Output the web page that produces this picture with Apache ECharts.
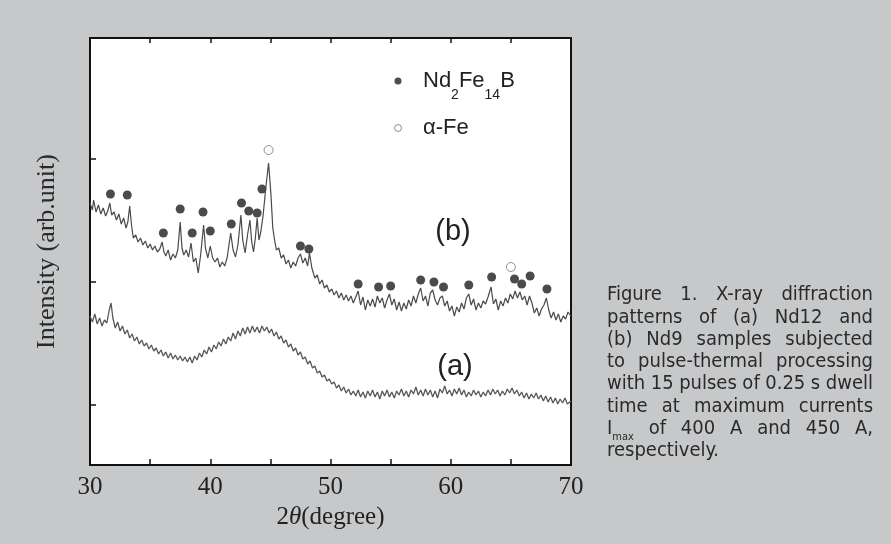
<!DOCTYPE html>
<html><head><meta charset="utf-8">
<script src="https://cdn.jsdelivr.net/npm/echarts@6/dist/echarts.min.js"></script>
<style>html,body{margin:0;padding:0;background:#c7c8ca;}#c{width:891px;height:544px;}</style>
</head><body><div id="c"></div>
<script>
// 2θ (degree), intensity (arb. unit) — pattern (b) Nd9
const curveB = [[30.0,262],[30.2,255],[30.3,265],[30.5,253],[30.7,260],[30.9,251],[31.1,257],[31.3,249],[31.5,255],[31.65,262],[31.8,250],[32.0,253],[32.2,245],[32.4,251],[32.6,241],[32.8,247],[33.0,237],[33.15,243],[33.3,259],[33.45,240],[33.6,227],[33.8,230],[34.0,223],[34.2,227],[34.4,220],[34.6,224],[34.8,217],[35.0,221],[35.2,215],[35.4,219],[35.6,213],[35.8,216],[36.0,223],[36.15,213],[36.3,209],[36.5,215],[36.7,205],[36.9,211],[37.1,207],[37.3,215],[37.5,243],[37.65,217],[37.8,210],[38.0,215],[38.2,208],[38.4,222],[38.6,203],[38.8,207],[39.0,192],[39.2,210],[39.45,240],[39.6,217],[39.8,207],[40.0,219],[40.2,207],[40.4,203],[40.6,207],[40.8,198],[41.0,203],[41.2,199],[41.4,207],[41.7,232],[41.9,215],[42.1,208],[42.3,220],[42.55,250],[42.7,225],[42.9,212],[43.1,230],[43.3,245],[43.45,223],[43.6,213],[43.75,227],[43.9,247],[44.05,225],[44.2,233],[44.4,250],[44.6,275],[44.85,302],[45.05,270],[45.2,237],[45.35,225],[45.5,215],[45.7,217],[45.9,207],[46.1,210],[46.3,201],[46.5,205],[46.7,197],[46.9,203],[47.1,199],[47.3,207],[47.5,211],[47.7,202],[47.9,207],[48.1,199],[48.25,212],[48.45,197],[48.7,187],[48.9,190],[49.1,181],[49.3,185],[49.5,177],[49.7,180],[49.9,173],[50.1,176],[50.3,170],[50.5,174],[50.7,167],[50.9,172],[51.1,165],[51.3,170],[51.5,164],[51.7,169],[51.9,162],[52.1,168],[52.3,174],[52.5,160],[52.7,168],[52.9,155],[53.1,165],[53.3,159],[53.5,166],[53.7,158],[53.9,169],[54.1,162],[54.3,167],[54.5,157],[54.7,165],[54.9,171],[55.1,160],[55.3,166],[55.5,155],[55.7,163],[55.9,154],[56.1,162],[56.3,156],[56.5,165],[56.7,159],[56.9,169],[57.1,162],[57.3,171],[57.5,177],[57.7,164],[57.9,169],[58.1,159],[58.3,172],[58.5,175],[58.7,165],[58.9,160],[59.1,167],[59.3,169],[59.5,159],[59.7,164],[59.9,154],[60.1,159],[60.3,149],[60.5,158],[60.7,153],[60.9,162],[61.1,156],[61.3,167],[61.5,171],[61.7,160],[61.9,166],[62.1,155],[62.3,162],[62.5,157],[62.7,164],[62.9,161],[63.1,168],[63.35,178],[63.55,161],[63.75,166],[63.95,155],[64.15,164],[64.35,159],[64.55,167],[64.75,162],[64.95,171],[65.15,166],[65.35,174],[65.55,167],[65.75,173],[65.95,165],[66.15,169],[66.35,160],[66.55,169],[66.75,162],[66.95,152],[67.15,157],[67.35,149],[67.55,156],[67.75,160],[67.95,167],[68.15,155],[68.35,147],[68.55,153],[68.75,145],[68.95,151],[69.15,143],[69.35,149],[69.55,146],[69.75,153],[70.0,149]];

// pattern (a) Nd12
const curveA = [[30.0,149],[30.2,143],[30.4,151],[30.6,141],[30.8,147],[31.0,139],[31.2,145],[31.4,142],[31.6,155],[31.75,162],[31.9,147],[32.1,137],[32.3,143],[32.5,134],[32.7,139],[32.9,131],[33.1,135],[33.3,127],[33.5,131],[33.7,124],[33.9,128],[34.1,121],[34.3,125],[34.5,119],[34.7,122],[34.9,116],[35.1,120],[35.3,114],[35.5,117],[35.7,111],[35.9,115],[36.1,109],[36.3,113],[36.5,107],[36.7,112],[36.9,106],[37.1,110],[37.3,105],[37.5,109],[37.7,104],[37.9,108],[38.1,103],[38.3,108],[38.5,102],[38.7,109],[38.9,105],[39.1,112],[39.3,108],[39.5,115],[39.7,111],[39.9,118],[40.1,113],[40.3,120],[40.5,116],[40.7,123],[40.9,119],[41.1,126],[41.3,121],[41.5,128],[41.7,124],[41.9,132],[42.1,126],[42.3,134],[42.5,129],[42.7,137],[42.9,131],[43.1,138],[43.3,132],[43.5,139],[43.7,133],[43.9,138],[44.1,132],[44.3,139],[44.5,134],[44.7,138],[44.9,132],[45.1,136],[45.3,129],[45.5,133],[45.7,126],[45.9,129],[46.1,122],[46.3,125],[46.5,118],[46.7,121],[46.9,114],[47.1,117],[47.3,110],[47.5,113],[47.7,106],[47.9,108],[48.1,101],[48.3,104],[48.5,97],[48.7,99],[48.9,92],[49.1,94],[49.3,88],[49.5,90],[49.7,84],[49.9,86],[50.1,81],[50.3,83],[50.5,77],[50.7,80],[50.9,74],[51.1,78],[51.3,72],[51.5,76],[51.7,70],[51.9,74],[52.1,69],[52.3,75],[52.5,68],[52.7,73],[52.9,67],[53.1,74],[53.3,69],[53.5,75],[53.7,68],[53.9,73],[54.1,66],[54.3,74],[54.5,69],[54.7,75],[54.9,68],[55.1,73],[55.3,67],[55.5,74],[55.7,70],[55.9,76],[56.1,69],[56.3,74],[56.5,68],[56.7,75],[56.9,71],[57.1,78],[57.3,70],[57.5,75],[57.7,69],[57.9,76],[58.1,70],[58.3,75],[58.5,68],[58.7,74],[58.9,67],[59.1,76],[59.3,72],[59.5,79],[59.7,71],[59.9,75],[60.1,69],[60.3,76],[60.5,71],[60.7,77],[60.9,70],[61.1,75],[61.3,68],[61.5,73],[61.7,69],[61.9,75],[62.1,70],[62.3,74],[62.5,68],[62.7,73],[62.9,69],[63.1,75],[63.3,70],[63.5,76],[63.7,71],[63.9,75],[64.1,69],[64.3,74],[64.5,70],[64.7,76],[64.9,72],[65.1,77],[65.3,71],[65.5,75],[65.7,69],[65.9,73],[66.1,67],[66.3,72],[66.5,66],[66.7,71],[66.9,67],[67.1,72],[67.3,66],[67.5,70],[67.7,64],[67.9,69],[68.1,63],[68.3,68],[68.5,62],[68.7,67],[68.9,61],[69.1,66],[69.3,62],[69.5,67],[69.7,61],[70.0,64]];

// peak markers
const nd2fe14bPeaks = [[31.7,271],[33.1,270],[36.1,232],[37.5,256],[38.5,232],[39.4,253],[40.0,234],[41.75,241],[42.6,262],[43.2,254],[43.9,252],[44.3,276],[47.5,219],[48.2,216],[52.3,181],[54.0,178],[55.0,179],[57.5,185],[58.6,183],[59.4,178],[61.5,180],[63.4,188],[65.3,186],[65.9,181],[66.6,189],[68.0,176]];
const alphaFePeaks = [[44.85,315],[65.0,198]];

const xTickLabels = [30,40,50,60,70];
const yTickValues = [60,183,306];
const captionLines = [
  "Figure 1. X-ray diffraction",
  "patterns of (a) Nd12 and",
  "(b) Nd9 samples subjected",
  "to pulse-thermal processing",
  "with 15 pulses of 0.25 s dwell",
  "time at maximum currents",
  "I_max of 400 A and 450 A,",
  "respectively."
];

const serif = '"Liberation Serif","Times New Roman",serif';
const sans = '"Liberation Sans",Arial,sans-serif';
const capFamily = '"Liberation Sans Narrow","DejaVu Sans Condensed","Liberation Sans",sans-serif';
const capSize = 20;
const ctx = document.createElement('canvas').getContext('2d');
function tw(t, size){ ctx.font = size + 'px ' + capFamily; return ctx.measureText(t).width; }

const graphics = [];
const capLeft = 607, capRight = 873, capTop = 295, capStep = 22.3;
captionLines.forEach((line, i) => {
  const words = line.split(' ');
  const widths = words.map(wd => wd === 'I_max' ? tw('I', capSize) + tw('max', 11) : tw(wd, capSize));
  const total = widths.reduce((a,b)=>a+b,0);
  const last = i === captionLines.length - 1;
  const gap = last ? tw(' ', capSize) : (capRight - capLeft - total) / (words.length - 1);
  let x = capLeft;
  const y = capTop + i * capStep;
  words.forEach((wd, j) => {
    if (wd === 'I_max') {
      graphics.push({type:'text', x: x, y: y, silent:true, style:{text:'I', font: capSize+'px '+capFamily, fill:'#2a2a2a', textVerticalAlign:'middle'}});
      graphics.push({type:'text', x: x + tw('I', capSize), y: y + 8, silent:true, style:{text:'max', font: '11px '+capFamily, fill:'#2a2a2a', textVerticalAlign:'middle'}});
    } else {
      graphics.push({type:'text', x: x, y: y, silent:true, style:{text: wd, font: capSize+'px '+capFamily, fill:'#2a2a2a', textVerticalAlign:'middle'}});
    }
    x += widths[j] + gap;
  });
});
graphics.push({type:'text', x:453, y:232, silent:true, style:{text:'(b)', font:'29px '+sans, fill:'#222', textAlign:'center', textVerticalAlign:'middle'}});
graphics.push({type:'text', x:455, y:367, silent:true, style:{text:'(a)', font:'29px '+sans, fill:'#222', textAlign:'center', textVerticalAlign:'middle'}});

const chart = echarts.init(document.getElementById('c'));
chart.setOption({
  animation: false,
  backgroundColor: '#c7c8ca',
  grid: {left:90, right:320, top:38, bottom:79, show:true, backgroundColor:'#ffffff', borderColor:'#111', borderWidth:2},
  legend: {
    orient:'vertical', left:394, top:60, padding:0, itemGap:15, itemWidth:40, itemHeight:7, selectedMode:false,
    data:[
      {name:'Nd2Fe14B', icon:'circle', itemStyle:{color:'#222'}},
      {name:'α-Fe', icon:'circle', itemStyle:{color:'#fff', borderColor:'#777', borderWidth:1}}
    ],
    formatter: n => n === 'Nd2Fe14B' ? '{t|Nd}{s|2}{t|Fe}{s|14}{t|B}' : '{t|α-Fe}',
    textStyle: {
      rich: {
        t: {fontFamily: sans, fontSize:22, color:'#222', lineHeight:24, verticalAlign:'middle'},
        s: {fontFamily: sans, fontSize:14, color:'#222', lineHeight:14, verticalAlign:'middle', padding:[28,0,0,0]}
      }
    }
  },
  xAxis: [
    {type:'value', min:30, max:70, interval:5, position:'bottom',
     axisLine:{show:false}, splitLine:{show:false},
     axisTick:{show:true, inside:true, length:6, lineStyle:{color:'#111', width:1.5}},
     axisLabel:{formatter: v => xTickLabels.includes(v) ? String(v) : '', fontFamily:serif, fontSize:25, color:'#222', margin:10, lineHeight:25},
     name:'{a|2}{b|θ}{a|(degree)}', nameLocation:'middle', nameGap:35,
     nameTextStyle:{rich:{a:{fontFamily:serif, fontSize:25, color:'#222', lineHeight:25}, b:{fontFamily:serif, fontStyle:'italic', fontSize:25, color:'#222', lineHeight:25}}}
    },
    {type:'value', min:30, max:70, interval:5, position:'top',
     axisLine:{show:false}, splitLine:{show:false}, axisLabel:{show:false},
     axisTick:{show:true, inside:true, length:5, lineStyle:{color:'#111', width:1.5}}
    }
  ],
  yAxis: {type:'value', min:0, max:427,
    axisLine:{show:false}, splitLine:{show:false}, axisLabel:{show:false},
    axisTick:{show:true, inside:true, length:6, customValues: yTickValues, lineStyle:{color:'#111', width:1.5}},
    name:'Intensity (arb.unit)', nameLocation:'middle', nameGap:30,
    nameTextStyle:{fontFamily:serif, fontSize:26, color:'#2a2a2a'}
  },
  graphic: graphics,
  series: [
    {name:'(b) Nd9', type:'line', data: curveB, showSymbol:false, symbol:'none', lineStyle:{color:'#4a4a4a', width:1.2}, silent:true},
    {name:'(a) Nd12', type:'line', data: curveA, showSymbol:false, symbol:'none', lineStyle:{color:'#585858', width:1.3}, silent:true},
    {name:'Nd2Fe14B', type:'scatter', data: nd2fe14bPeaks, symbol:'circle', symbolSize:9, itemStyle:{color:'#1e1e1e'}, silent:true},
    {name:'α-Fe', type:'scatter', data: alphaFePeaks, symbol:'circle', symbolSize:9, itemStyle:{color:'#fff', borderColor:'#777', borderWidth:1}, silent:true}
  ]
});
</script>
</body></html>
